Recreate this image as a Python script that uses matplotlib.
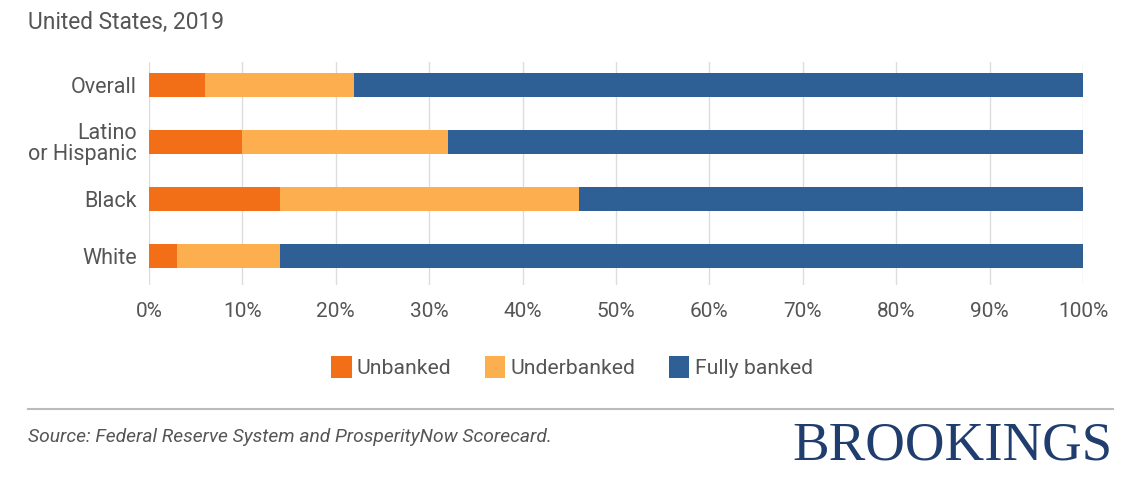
import matplotlib
matplotlib.use("Agg")
import matplotlib.pyplot as plt
from matplotlib.patches import Patch
import numpy as np

categories = ["Overall", "Latino\nor Hispanic", "Black", "White"]
unbanked = [6, 10, 14, 3]
underbanked = [16, 22, 32, 11]
fully_banked = [78, 68, 54, 86]
series_names = ["Unbanked", "Underbanked", "Fully banked"]
colors = ["#f26f17", "#fdae4f", "#2e5f95"]
xticks = [0, 10, 20, 30, 40, 50, 60, 70, 80, 90, 100]

plt.rcParams['font.family'] = ['Roboto', 'DejaVu Sans']

fig = plt.figure(figsize=(11.4, 4.8), dpi=100)
ax = fig.add_axes([149/1140, 1-285/480, (1083-149)/1140, 223/480])

y = np.arange(len(categories))
left = np.zeros(len(categories))
for vals, c, name in zip([unbanked, underbanked, fully_banked], colors, series_names):
    ax.barh(y, vals, left=left, height=0.43, color=c, label=name, zorder=3)
    left = left + np.array(vals)

ax.set_xlim(0, 100)
ax.set_ylim(3.51, -0.40)
ax.set_xticks(xticks)
ax.set_xticklabels([f"{t}%" for t in xticks], fontsize=15, color="#555555")
ax.set_yticks(y)
ax.set_yticklabels(categories, fontsize=15.5, color="#555555", linespacing=0.95)
ax.tick_params(axis='x', length=0, pad=12)
ax.tick_params(axis='y', length=0, pad=9)
ax.grid(axis='x', color="#dddddd", linewidth=1, zorder=0)
for s in ax.spines.values():
    s.set_visible(False)

handles = [Patch(facecolor=c, edgecolor='none') for c in colors]
fig.legend(handles, series_names, loc='center', bbox_to_anchor=(572/1140, 1-367/480),
           ncol=3, frameon=False, fontsize=15.2, handlelength=0.95, handleheight=1.25,
           handletextpad=0.25, columnspacing=1.6, labelcolor="#555555")

fig.text(28/1140, 1-22/480, "United States, 2019", fontsize=16.4, color="#555555", va='center', ha='left')

fig.add_artist(plt.Line2D([28/1140, 1113/1140], [1-409/480, 1-409/480], color="#bbbbbb", linewidth=1.5))
fig.text(28/1140, 1-437/480, "Source: Federal Reserve System and ProsperityNow Scorecard.",
         fontsize=13.9, style='italic', color="#555555", va='center', ha='left')
fig.text(1113/1140, 1-446/480, "BROOKINGS", fontsize=39.5, family=['Liberation Serif', 'DejaVu Serif'],
         color="#1f3d6e", va='center', ha='right')

fig.savefig("out.png", dpi=100, facecolor='white')
